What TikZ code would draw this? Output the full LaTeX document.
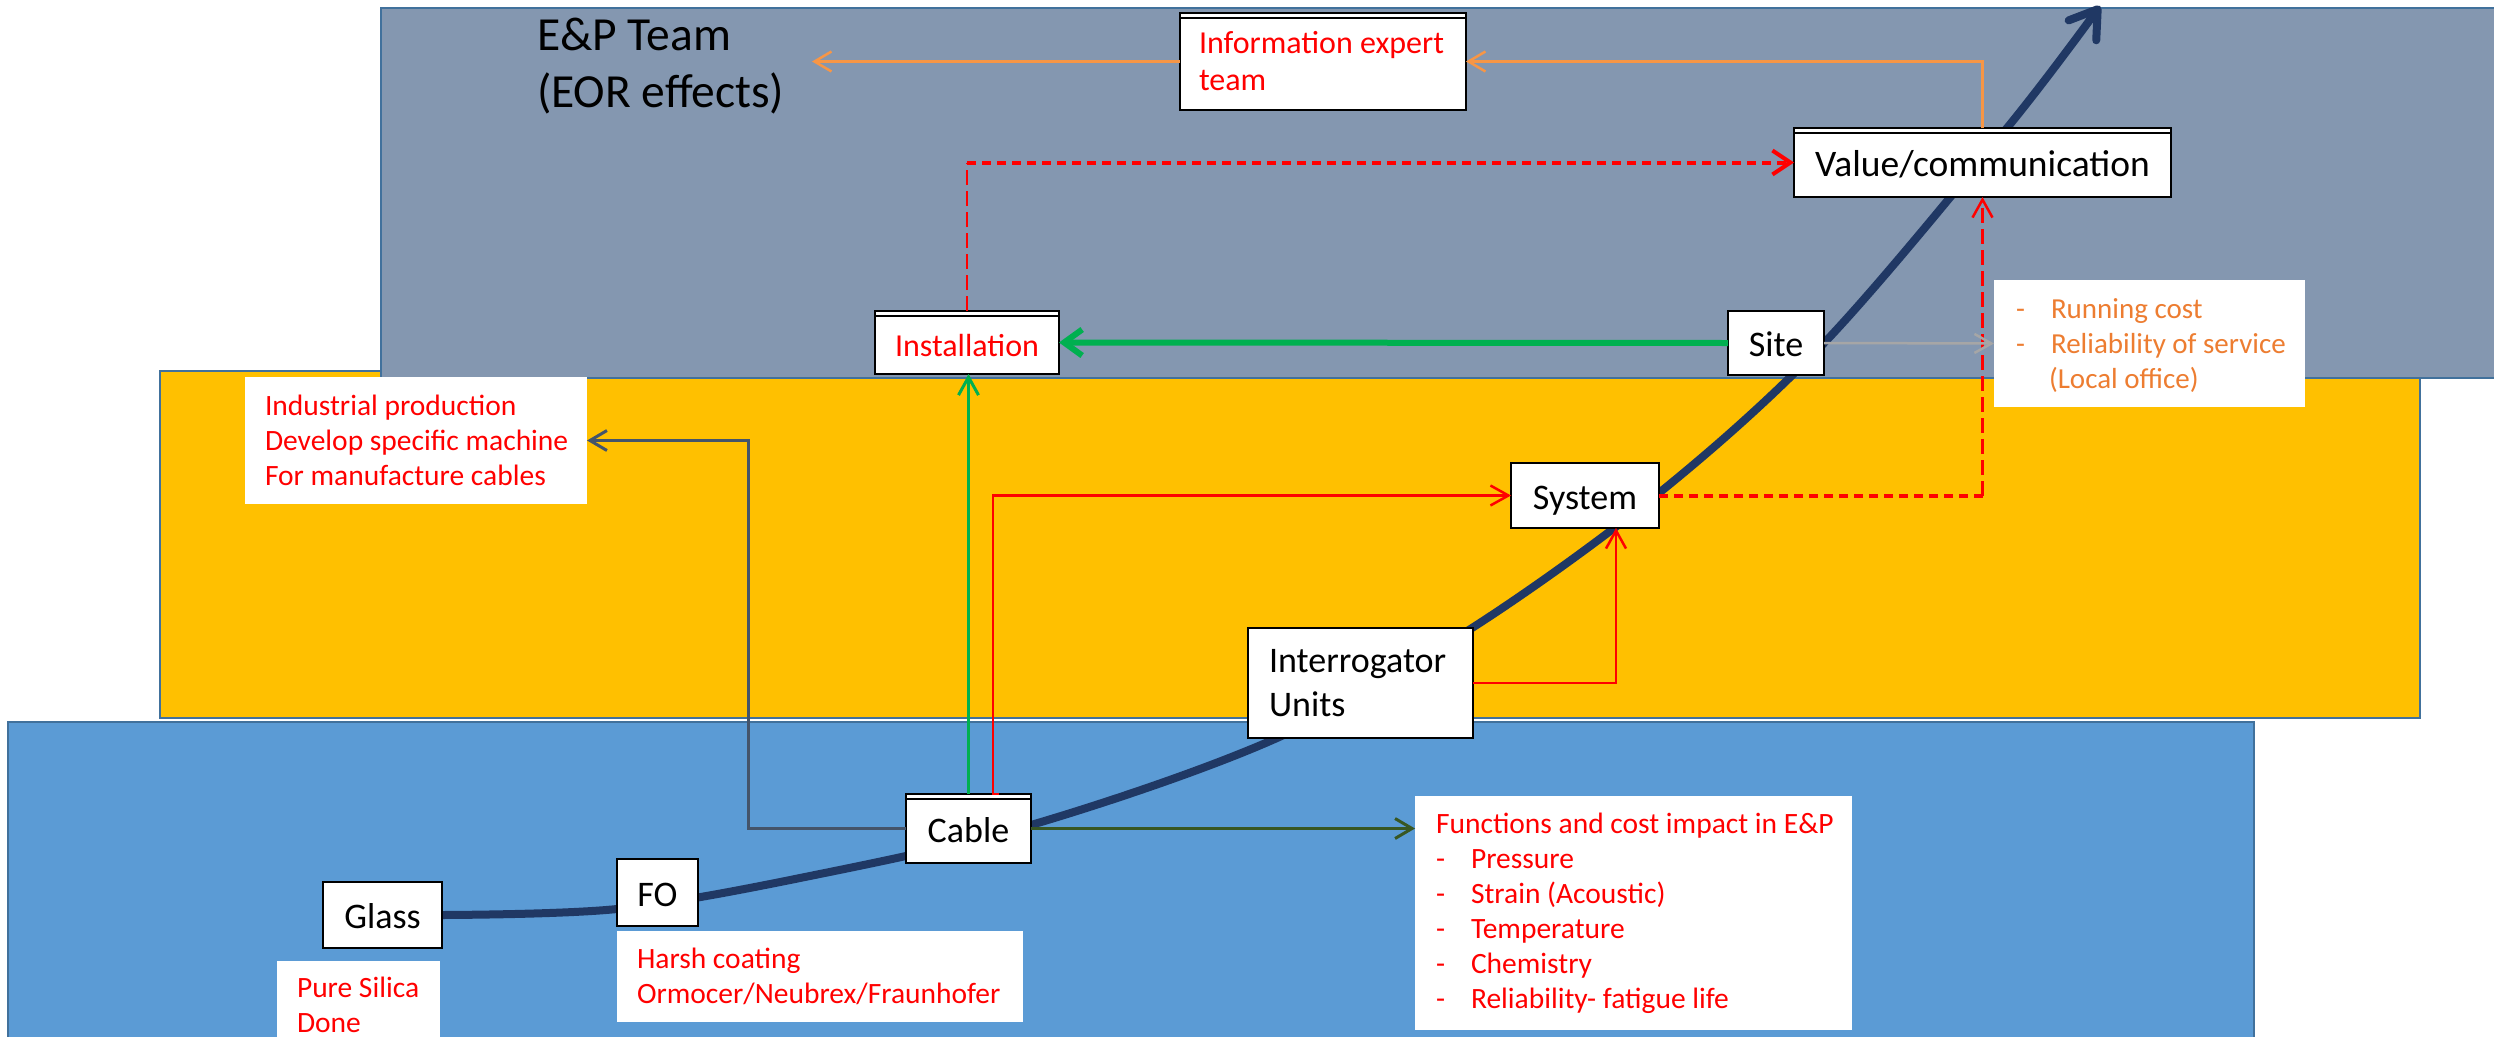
\documentclass[tikz,border=0pt]{standalone}
\usepackage{fontspec}
\setmainfont{Carlito}
\usetikzlibrary{arrows.meta}
\definecolor{panelgray}{RGB}{132,151,176}
\definecolor{panelyellow}{RGB}{255,192,0}
\definecolor{panelblue}{RGB}{91,155,213}
\definecolor{panelborder}{RGB}{65,113,156}
\definecolor{curvenavy}{RGB}{32,56,100}
\definecolor{orangeline}{RGB}{247,150,70}
\definecolor{orangetext}{RGB}{237,125,49}
\definecolor{pptred}{RGB}{255,0,0}
\definecolor{pptgreen}{RGB}{0,176,80}
\definecolor{graylink}{RGB}{166,166,166}
\definecolor{slatelink}{RGB}{68,84,106}
\definecolor{darkgreenlink}{RGB}{56,87,35}
\pgfdeclarelayer{panels}
\pgfdeclarelayer{curvelayer}
\pgfsetlayers{panels,curvelayer,main}
\newcommand\itemdash{\makebox[35pt][l]{-}}
\tikzset{
  panel/.style={draw=panelborder, line width=2pt},
  box/.style={rectangle, draw=black, fill=white, line width=2pt, inner sep=0pt, outer sep=0pt},
  notebox/.style={rectangle, fill=white, inner sep=0pt, outer sep=0pt},
  blacklabel/.style={font=\fontsize{36}{44}\selectfont, text height=27pt, text depth=0pt},
  bigblacklabel/.style={font=\fontsize{37.5}{45}\selectfont, text height=28pt, text depth=0pt},
  redlabel/.style={text=pptred, font=\fontsize{32}{38}\selectfont, text height=27pt, text depth=0pt},
  txt/.style={anchor=west, align=left, inner sep=0pt, outer sep=0pt},
  redsmall/.style={text=pptred, font=\fontsize{29.5}{35}\selectfont},
  redmid/.style={text=pptred, font=\fontsize{32}{37}\selectfont},
  orangesmall/.style={text=orangetext, font=\fontsize{29}{35}\selectfont},
  bigtitle/.style={font=\fontsize{47.5}{57}\selectfont},
  orangelink/.style={draw=orangeline, line width=2.5pt, -{Straight Barb[length=17pt,width=20pt]}},
  redlink/.style={draw=pptred, line width=2.5pt},
  redtip/.style={-{Straight Barb[length=18pt,width=20pt]}},
  dashH/.style={draw=pptred, line width=4pt, dash pattern=on 9pt off 6pt},
  dashV/.style={draw=pptred, line width=2.5pt, dash pattern=on 15pt off 6pt},
  greenthick/.style={draw=pptgreen, line width=6pt, -{Straight Barb[length=18pt,width=26pt]}},
  greenthin/.style={draw=pptgreen, line width=3pt, -{Straight Barb[length=18pt,width=20pt]}},
  graylinkstyle/.style={draw=graylink, line width=2.5pt, -{Straight Barb[length=17pt,width=19pt]}},
  slatelinkstyle/.style={draw=slatelink, line width=3pt, -{Straight Barb[length=17pt,width=20pt]}},
  dglinkstyle/.style={draw=darkgreenlink, line width=3pt, -{Straight Barb[length=17pt,width=20pt]}},
  growth/.style={draw=curvenavy, line width=8pt, line cap=round,
    -{Straight Barb[length=26pt,width=34pt,line cap=round,line join=round]}}
}
\begin{document}
\begin{tikzpicture}[x=1pt,y=-1pt]
\useasboundingbox (0,0) rectangle (2494,1036);

% panels
\begin{pgfonlayer}{panels}
\fill[white] (0,0) rectangle (2494,1036);
\draw[panel, fill=panelblue] (8,722) rectangle (2254,1060);
\draw[panel, fill=panelyellow] (160,371) rectangle (2420,718);
\draw[panel, fill=panelgray] (381,8) rectangle (2520,378);
\end{pgfonlayer}

% title
\node[txt, bigtitle] (ep) at (537,66) {E\&P Team\\(EOR effects)};

% boxes with border
\node[box, minimum width=286pt, minimum height=97pt] (info) at (1323,61.5) {};
\node[txt, redmid] (infotext) at ([xshift=19pt]info.west) {Information expert\\team};
\node[box, bigblacklabel, minimum width=377pt, minimum height=69pt] (value) at (1982.5,162.5) {Value/communication};
\node[box, redlabel, minimum width=184pt, minimum height=63pt] (inst) at (967,342.5) {Installation};
\node[box, blacklabel, minimum width=96pt, minimum height=64pt] (site) at (1776,343) {Site};
\node[box, blacklabel, minimum width=148pt, minimum height=65pt] (system) at (1585,495.5) {System};
\node[box, minimum width=225pt, minimum height=110pt] (interr) at (1360.5,683) {};
\node[txt, font=\fontsize{36}{44}\selectfont] (interrtext) at ([xshift=21pt]interr.west) {Interrogator\\Units};
\node[box, blacklabel, minimum width=125pt, minimum height=69pt] (cable) at (968.5,828.5) {Cable};
\node[box, blacklabel, minimum width=81pt, minimum height=67pt] (fo) at (657.5,892.5) {FO};
\node[box, blacklabel, minimum width=119pt, minimum height=66pt] (glass) at (382.5,915) {Glass};

\foreach \n in {inst,value,cable,info}
  \draw[line width=1.2pt] ([yshift=-5pt]\n.north west) -- ([yshift=-5pt]\n.north east);

% white note boxes
\node[notebox, minimum width=311pt, minimum height=127pt] (run) at (2149.5,343.5) {};
\node[txt, orangesmall] (runtext) at ([xshift=22pt,yshift=-2pt]run.west)
  {\itemdash Running cost\\\itemdash Reliability of service\\\hspace*{33pt}(Local office)};
\node[notebox, minimum width=342pt, minimum height=127pt] (indus) at (416,440.5) {};
\node[txt, redsmall] (industext) at ([xshift=20pt]indus.west)
  {Industrial production\\Develop specific machine\\For manufacture cables};
\node[notebox, minimum width=437pt, minimum height=234pt] (func) at (1633.5,913) {};
\node[txt, redsmall] (functext) at ([xshift=21pt]func.west)
  {Functions and cost impact in E\&P\\\itemdash Pressure\\\itemdash Strain (Acoustic)\\\itemdash Temperature\\\itemdash Chemistry\\\itemdash Reliability- fatigue life};
\node[notebox, minimum width=406pt, minimum height=91pt] (harsh) at (820,976.5) {};
\node[txt, redsmall] (harshtext) at ([xshift=20pt]harsh.west)
  {Harsh coating\\Ormocer/Neubrex/Fraunhofer};
\node[notebox, minimum width=163pt, minimum height=100pt] (pure) at (358.5,1011) {};
\node[txt, redsmall] (puretext) at ([xshift=20pt,yshift=6pt]pure.west) {Pure Silica\\Done};

\coordinate (eptip) at (812,61.5);

% growth curve
\begin{pgfonlayer}{curvelayer}
\draw[growth] plot[smooth, tension=0.55] coordinates
  {(glass.east) (617,909) (800,878) (1031,825) (1277,738) (1472,628) (1659,493) (1825,342) (2007,128) (2100,6)};
\end{pgfonlayer}

% connectors
\draw[orangelink] (value.north) |- (info.east);
\draw[orangelink] (info.west) -- (eptip);

\draw[dashV] (inst.north) -- (inst.north |- value.west);
\draw[dashH, -{Straight Barb[length=18pt,width=24pt]}] (inst.north |- value.west) -- (value.west);

\draw[dashH] (system.east) -- (system.east -| value.south);
\draw[dashV, -{Straight Barb[length=18pt,width=20pt]}] (system.east -| value.south) -- (value.south);

\draw[greenthick] (site.west) -- (inst.east);
\draw[greenthin] (cable.north) -- (cable.north |- inst.south);
\draw[graylinkstyle] (site.east) -- (run.west);

\draw[redlink, redtip] ([xshift=30.5pt]cable.north) -- ++(-6,0) |- (system.west);
\draw[redlink, redtip] (interr.east) -| ([xshift=31pt]system.south);

\draw[slatelinkstyle] (cable.west) -- ++(-158,0) |- (indus.east);
\draw[dglinkstyle] (cable.east) -- (cable.east -| func.west);
\end{tikzpicture}
\end{document}
